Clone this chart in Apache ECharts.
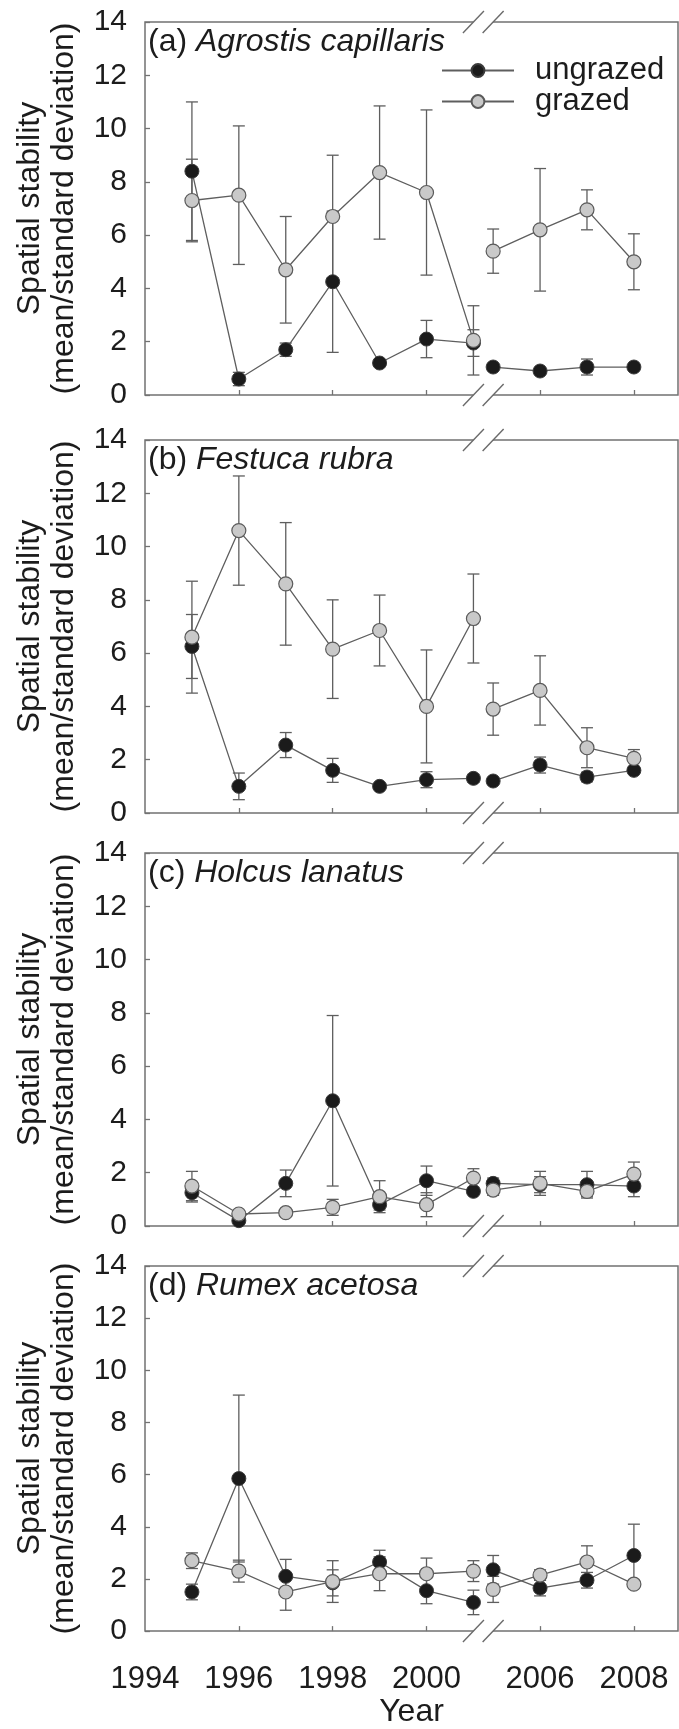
<!DOCTYPE html>
<html>
<head>
<meta charset="utf-8">
<script src="https://cdn.jsdelivr.net/npm/echarts@6.0.0/dist/echarts.min.js"></script>
<style>
  html, body { margin: 0; padding: 0; background: #fff; }
  #chart { width: 679px; height: 1729px; }
</style>
</head>
<body>
<div id="chart"></div>
<script>
// survey years (axis is broken between 2001 and 2005)
var years = [1995, 1996, 1997, 1998, 1999, 2000, 2001, 2005, 2006, 2007, 2008];
var yearTicks = [1996, 1998, 2000, 2006, 2008];
var yearLabels = [1994, 1996, 1998, 2000, 2006, 2008];
var breakShift = 3.58;   // years cut out of the axis after 2001

// (a) Agrostis capillaris
var ungrazedA = [8.4, 0.6, 1.7, 4.25, 1.2, 2.1, 1.95, 1.05, 0.9, 1.05, 1.05];
var ungrazedAErr = [2.6, 0.25, 0.25, 2.65, 0.1, 0.7, 0.5, 0.1, 0.1, 0.3, 0.1];
var grazedA = [7.3, 7.5, 4.7, 6.7, 8.35, 7.6, 2.05, 5.4, 6.2, 6.95, 5.0];
var grazedAErr = [1.55, 2.6, 2.0, 2.3, 2.5, 3.1, 1.3, 0.83, 2.3, 0.75, 1.05];

// (b) Festuca rubra
var ungrazedB = [6.25, 1.0, 2.55, 1.6, 1.0, 1.25, 1.3, 1.2, 1.8, 1.35, 1.6];
var ungrazedBErr = [1.2, 0.5, 0.47, 0.45, 0.08, 0.3, 0.15, 0.1, 0.3, 0.18, 0.12];
var grazedB = [6.6, 10.6, 8.6, 6.15, 6.85, 4.0, 7.3, 3.9, 4.6, 2.45, 2.05];
var grazedBErr = [2.1, 2.05, 2.3, 1.85, 1.33, 2.12, 1.67, 0.98, 1.3, 0.75, 0.33];

// (c) Holcus lanatus
var ungrazedC = [1.25, 0.2, 1.6, 4.7, 0.8, 1.7, 1.3, 1.6, 1.55, 1.55, 1.5];
var ungrazedCErr = [0.35, 0.1, 0.5, 3.2, 0.2, 0.55, 0.1, 0.2, 0.3, 0.5, 0.4];
var grazedC = [1.5, 0.45, 0.5, 0.7, 1.1, 0.8, 1.8, 1.35, 1.6, 1.3, 1.95];
var grazedCErr = [0.55, 0.1, 0.12, 0.3, 0.6, 0.45, 0.35, 0.2, 0.45, 0.2, 0.45];

// (d) Rumex acetosa
var ungrazedD = [1.5, 5.85, 2.1, 1.85, 2.65, 1.55, 1.1, 2.35, 1.65, 1.95, 2.9];
var ungrazedDErr = [0.3, 3.2, 0.65, 0.5, 0.45, 0.5, 0.47, 0.55, 0.3, 0.3, 1.2];
var grazedD = [2.7, 2.3, 1.5, 1.9, 2.2, 2.2, 2.3, 1.6, 2.15, 2.65, 1.8];
var grazedDErr = [0.3, 0.42, 0.7, 0.8, 0.65, 0.6, 0.4, 0.5, 0.2, 0.62, 0.15];

var panelLetters = ['(a) ', '(b) ', '(c) ', '(d) '];
var species = ['Agrostis capillaris', 'Festuca rubra', 'Holcus lanatus', 'Rumex acetosa'];
var yTicks = [0, 14, 2];   // min, max, step

var panels = [
  [ungrazedA, ungrazedAErr, grazedA, grazedAErr],
  [ungrazedB, ungrazedBErr, grazedB, grazedBErr],
  [ungrazedC, ungrazedCErr, grazedC, grazedCErr],
  [ungrazedD, ungrazedDErr, grazedD, grazedDErr]
];

var FONT = '"Liberation Sans", Arial, Helvetica, sans-serif';
var INK = '#1c1c1c';
var GREY = '#5e5e5e';

function xPos(yr) { return yr > 2001 ? yr - breakShift : yr; }
function xYear(v) { return v > 2001.2 ? Math.round(v + breakShift) : Math.round(v); }

var gridTops = [22, 440, 853, 1266];
var grids = [], xAxes = [], yAxes = [], titles = [], series = [];

function lineData(vals) {
  var out = [];
  years.forEach(function (yr, i) {
    if (yr === 2005) out.push([xPos(2001) + 0.2, '-']);
    out.push([xPos(yr), vals[i]]);
  });
  return out;
}

function errSeries(gi, vals, errs) {
  return {
    type: 'custom', xAxisIndex: gi, yAxisIndex: gi, z: 1, silent: true, clip: false,
    data: years.map(function (yr, i) { return [xPos(yr), vals[i] - errs[i], vals[i] + errs[i]]; }),
    encode: { x: 0, y: [1, 2] },
    renderItem: function (params, api) {
      var lo = api.coord([api.value(0), api.value(1)]);
      var hi = api.coord([api.value(0), api.value(2)]);
      var w = 6;
      var st = { stroke: GREY, lineWidth: 1.3 };
      return { type: 'group', children: [
        { type: 'line', shape: { x1: lo[0], y1: lo[1], x2: hi[0], y2: hi[1] }, style: st },
        { type: 'line', shape: { x1: lo[0] - w, y1: lo[1], x2: lo[0] + w, y2: lo[1] }, style: st },
        { type: 'line', shape: { x1: hi[0] - w, y1: hi[1], x2: hi[0] + w, y2: hi[1] }, style: st }
      ]};
    }
  };
}

// the // marks on top and bottom frame, at the 2001 and 2005 positions
function breakSeries(gi) {
  return {
    type: 'custom', xAxisIndex: gi, yAxisIndex: gi, z: 5, silent: true, clip: false,
    data: [[xPos(2001), yTicks[0], yTicks[1]]],
    renderItem: function (params, api) {
      var x1 = api.coord([xPos(2001), yTicks[0]])[0];
      var x2 = api.coord([xPos(2005), yTicks[0]])[0];
      var ys = [api.coord([xPos(2001), yTicks[0]])[1], api.coord([xPos(2001), yTicks[1]])[1]];
      var kids = [];
      ys.forEach(function (y) {
        kids.push({ type: 'rect', shape: { x: x1, y: y - 2.5, width: x2 - x1, height: 5 },
          style: { fill: '#fff' } });
        [x1, x2].forEach(function (x) {
          kids.push({ type: 'line', shape: { x1: x - 10.5, y1: y + 11, x2: x + 10.5, y2: y - 11 },
            style: { stroke: '#6a6a6a', lineWidth: 1.4 } });
        });
      });
      return { type: 'group', children: kids };
    }
  };
}

panels.forEach(function (p, gi) {
  var last = gi === panels.length - 1;
  grids.push({ left: 145, right: 1, top: gridTops[gi], height: 373, show: true,
    borderColor: '#727272', borderWidth: 1.5, backgroundColor: 'transparent' });
  xAxes.push({
    type: 'value', gridIndex: gi, min: 1994, max: 2005.36,
    axisLine: { show: false },
    splitLine: { show: false },
    axisTick: { show: true, inside: true, length: 5, lineStyle: { color: '#727272', width: 1.3 },
      customValues: yearTicks.map(xPos) },
    axisLabel: { show: last, customValues: yearLabels.map(xPos), margin: 33,
      fontSize: 31, fontFamily: FONT, color: INK,
      formatter: function (v) { return String(xYear(v)); } },
    name: last ? 'Year' : '', nameLocation: 'middle', nameGap: 60,
    nameTextStyle: { fontSize: 32, fontFamily: FONT, color: INK }
  });
  yAxes.push({
    type: 'value', gridIndex: gi, min: yTicks[0], max: yTicks[1], interval: yTicks[2],
    axisLine: { show: false },
    splitLine: { show: false },
    axisTick: { show: true, inside: true, length: 5, lineStyle: { color: '#727272', width: 1.3 } },
    axisLabel: { margin: 18, fontSize: 30, fontFamily: FONT, color: INK },
    name: 'Spatial stability\n(mean/standard deviation)', nameLocation: 'middle', nameGap: 64,
    nameTextStyle: { fontSize: 32, lineHeight: 34, fontFamily: FONT, color: INK }
  });
  titles.push({
    text: '{n|' + panelLetters[gi] + '}{i|' + species[gi] + '}',
    left: 148, top: gridTops[gi] + 4, padding: 0,
    textStyle: { fontWeight: 'normal', rich: {
      n: { fontSize: 32, fontFamily: FONT, fontWeight: 'normal', color: INK },
      i: { fontSize: 32, fontFamily: FONT, fontWeight: 'normal', fontStyle: 'italic', color: INK }
    } }
  });
  series.push(errSeries(gi, p[0], p[1]));
  series.push(errSeries(gi, p[2], p[3]));
  series.push({
    name: 'ungrazed', type: 'line', xAxisIndex: gi, yAxisIndex: gi, z: 2,
    data: lineData(p[0]), connectNulls: false,
    symbol: 'circle', symbolSize: 14,
    lineStyle: { color: GREY, width: 1.3 },
    itemStyle: { color: '#1b1b1b', borderColor: '#3a3a3a', borderWidth: 1 }
  });
  series.push({
    name: 'grazed', type: 'line', xAxisIndex: gi, yAxisIndex: gi, z: 3,
    data: lineData(p[2]), connectNulls: false,
    symbol: 'circle', symbolSize: 14,
    lineStyle: { color: GREY, width: 1.3 },
    itemStyle: { color: '#c9c9c9', borderColor: '#5a5a5a', borderWidth: 1.2 }
  });
  series.push(breakSeries(gi));
});

var chart = echarts.init(document.getElementById('chart'));
chart.setOption({
  animation: false,
  backgroundColor: '#fff',
  title: titles,
  legend: {
    data: ['ungrazed', 'grazed'], orient: 'vertical', left: 441, top: 55,
    itemWidth: 72, itemHeight: 16, itemGap: 0, padding: 0,
    textStyle: { fontSize: 31, lineHeight: 31, fontFamily: FONT, color: INK, padding: [0, 0, 0, 16] }
  },
  grid: grids,
  xAxis: xAxes,
  yAxis: yAxes,
  series: series
});
</script>
</body>
</html>
